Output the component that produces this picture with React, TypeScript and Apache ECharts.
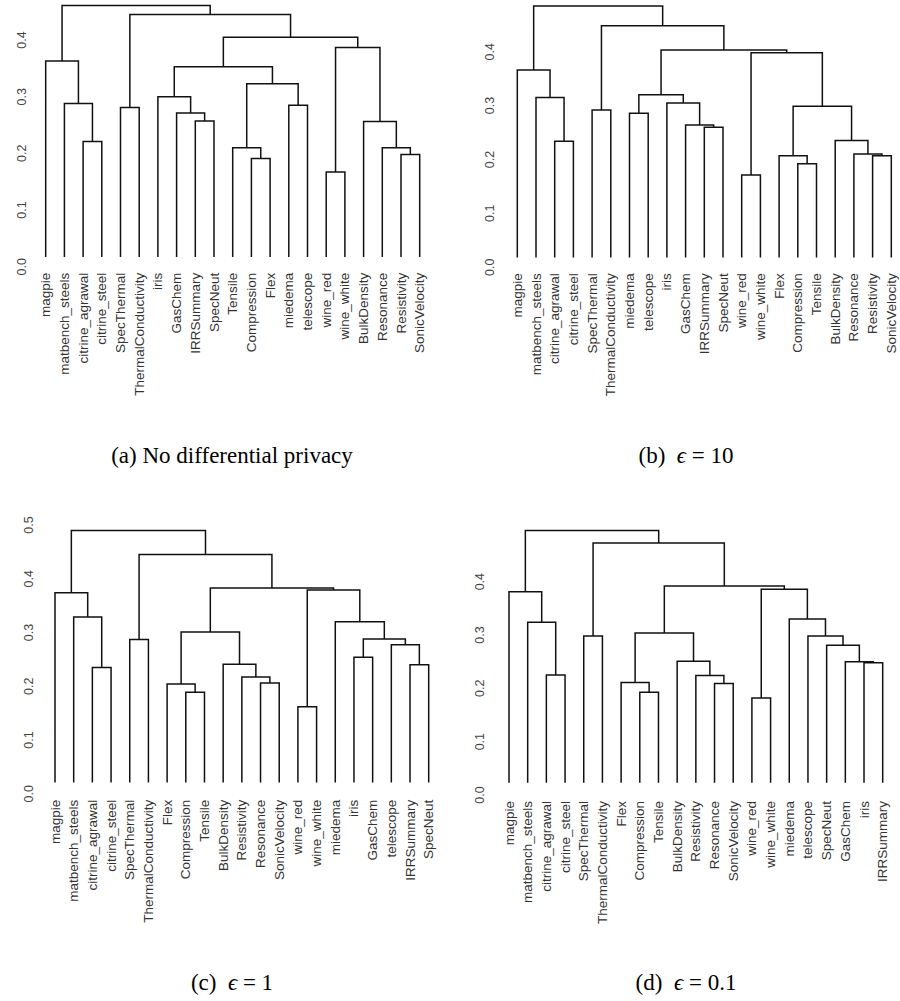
import React, { useEffect, useRef } from 'react';
import * as echarts from 'echarts';

type Child = string | number;

const leavesA = ['magpie','matbench_steels','citrine_agrawal','citrine_steel','SpecThermal','ThermalConductivity','iris','GasChem','IRRSummary','SpecNeut','Tensile','Compression','Flex','miedema','telescope','wine_red','wine_white','BulkDensity','Resonance','Resistivity','SonicVelocity'];
const mergesA: [Child, Child, number][] = [
  ['citrine_agrawal','citrine_steel',0.221],
  ['matbench_steels',0,0.288],
  ['magpie',1,0.363],
  ['SpecThermal','ThermalConductivity',0.281],
  ['IRRSummary','SpecNeut',0.257],
  ['GasChem',4,0.271],
  ['iris',5,0.300],
  ['Compression','Flex',0.191],
  ['Tensile',7,0.210],
  ['miedema','telescope',0.285],
  [8,9,0.323],
  [6,10,0.353],
  ['wine_red','wine_white',0.167],
  ['Resistivity','SonicVelocity',0.198],
  ['Resonance',13,0.210],
  ['BulkDensity',14,0.256],
  [12,15,0.387],
  [11,16,0.405],
  [3,17,0.445],
  [2,18,0.461],
];

const leavesB = ['magpie','matbench_steels','citrine_agrawal','citrine_steel','SpecThermal','ThermalConductivity','miedema','telescope','iris','GasChem','IRRSummary','SpecNeut','wine_red','wine_white','Flex','Compression','Tensile','BulkDensity','Resonance','Resistivity','SonicVelocity'];
const mergesB: [Child, Child, number][] = [
  ['citrine_agrawal','citrine_steel',0.234],
  ['matbench_steels',0,0.315],
  ['magpie',1,0.366],
  ['SpecThermal','ThermalConductivity',0.292],
  ['miedema','telescope',0.286],
  ['IRRSummary','SpecNeut',0.260],
  ['GasChem',5,0.264],
  ['iris',6,0.305],
  [4,7,0.320],
  ['wine_red','wine_white',0.171],
  ['Compression','Tensile',0.192],
  ['Flex',10,0.207],
  ['Resistivity','SonicVelocity',0.207],
  ['Resonance',12,0.210],
  ['BulkDensity',13,0.235],
  [11,14,0.299],
  [9,15,0.398],
  [8,16,0.403],
  [3,17,0.448],
  [2,18,0.485],
];

const leavesC = ['magpie','matbench_steels','citrine_agrawal','citrine_steel','SpecThermal','ThermalConductivity','Flex','Compression','Tensile','BulkDensity','Resistivity','Resonance','SonicVelocity','wine_red','wine_white','miedema','iris','GasChem','telescope','IRRSummary','SpecNeut'];
const mergesC: [Child, Child, number][] = [
  ['citrine_agrawal','citrine_steel',0.235],
  ['matbench_steels',0,0.329],
  ['magpie',1,0.374],
  ['SpecThermal','ThermalConductivity',0.287],
  ['Compression','Tensile',0.189],
  ['Flex',4,0.204],
  ['Resonance','SonicVelocity',0.206],
  ['Resistivity',6,0.217],
  ['BulkDensity',7,0.241],
  [5,8,0.301],
  ['wine_red','wine_white',0.162],
  ['iris','GasChem',0.254],
  ['IRRSummary','SpecNeut',0.240],
  ['telescope',12,0.277],
  [11,13,0.288],
  ['miedema',14,0.320],
  [10,15,0.379],
  [9,16,0.383],
  [3,17,0.445],
  [2,18,0.490],
];

const leavesD = ['magpie','matbench_steels','citrine_agrawal','citrine_steel','SpecThermal','ThermalConductivity','Flex','Compression','Tensile','BulkDensity','Resistivity','Resonance','SonicVelocity','wine_red','wine_white','miedema','telescope','SpecNeut','GasChem','iris','IRRSummary'];
const mergesD: [Child, Child, number][] = [
  ['citrine_agrawal','citrine_steel',0.225],
  ['matbench_steels',0,0.324],
  ['magpie',1,0.381],
  ['SpecThermal','ThermalConductivity',0.298],
  ['Compression','Tensile',0.1925],
  ['Flex',4,0.211],
  ['Resonance','SonicVelocity',0.209],
  ['Resistivity',6,0.224],
  ['BulkDensity',7,0.251],
  [5,8,0.304],
  ['wine_red','wine_white',0.182],
  ['iris','IRRSummary',0.248],
  ['GasChem',11,0.250],
  ['SpecNeut',12,0.281],
  ['telescope',13,0.298],
  ['miedema',14,0.330],
  [10,15,0.386],
  [9,16,0.392],
  [3,17,0.4725],
  [2,18,0.496],
];

const leafBase = [0.017, 0.018, 0.021, 0.023];
const yMaxes = [0.47, 0.49, 0.5, 0.5];
const captionLabels = ['(a)', '(b)', '(c)', '(d)'];
const captionTexts = ['No differential privacy', '10', '1', '0.1'];

function buildLinks(leaves: string[], merges: [Child, Child, number][], base: number) {
  const mx: number[] = [];
  const px = (c: Child) => (typeof c === 'string' ? leaves.indexOf(c) : mx[c]);
  const ph = (c: Child) => (typeof c === 'string' ? base : merges[c][2]);
  const out: number[][] = [];
  merges.forEach(([a, b, h]) => {
    const xa = px(a), xb = px(b);
    mx.push((xa + xb) / 2);
    out.push([xa, xb, ph(a), ph(b), h]);
  });
  return out;
}

const panels = [
  { leaves: leavesA, merges: mergesA, grid: { left: 45.7, top: 0.35, width: 374, height: 266.35 }, yMargin: 17 },
  { leaves: leavesB, merges: mergesB, grid: { left: 517.3, top: 3.24, width: 374, height: 263.96 }, yMargin: 21 },
  { leaves: leavesC, merges: mergesC, grid: { left: 55, top: 525, width: 373.7, height: 268.75 }, yMargin: 19.5 },
  { leaves: leavesD, merges: mergesD, grid: { left: 509, top: 528.35, width: 373.7, height: 266.65 }, yMargin: 22.5 },
];

const capPos = [
  [232, 455],
  [686, 455],
  [232, 982],
  [686, 982],
];

export default function App() {
  const ref = useRef<HTMLDivElement>(null);
  useEffect(() => {
    if (!ref.current) return;
    const chart = echarts.init(ref.current, undefined, { renderer: 'svg' });
    const serif = '"Liberation Serif", "Times New Roman", serif';
    const fs = 23;
    const graphics: any[] = captionTexts.map((c, i) => {
      if (i === 0) {
        return {
          type: 'text', x: capPos[i][0], y: capPos[i][1],
          style: { text: `${captionLabels[i]} ${c}`, fontFamily: serif, fontSize: fs, fill: '#000', align: 'center', verticalAlign: 'middle' },
        };
      }
      return {
        type: 'text', x: capPos[i][0], y: capPos[i][1],
        style: {
          text: `{n|${captionLabels[i]}\u2002}{e|ϵ}{n| = ${c}}`,
          rich: {
            n: { fontFamily: serif, fontSize: fs, fill: '#000' },
            e: { fontFamily: serif, fontSize: fs, fontStyle: 'italic', fill: '#000' },
          },
          fontFamily: serif, fontSize: fs, fill: '#000', align: 'center', verticalAlign: 'middle',
        },
      };
    });
    const option: any = {
      animation: false,
      backgroundColor: '#fff',
      grid: panels.map((p) => ({ ...p.grid, containLabel: false })),
      xAxis: panels.map((p, i) => ({
        type: 'value', gridIndex: i, min: 0, max: 20, interval: 1,
        axisLine: { show: false }, axisTick: { show: false }, splitLine: { show: false },
        axisLabel: {
          rotate: 90, margin: 6, fontSize: 13.5, color: '#333', fontFamily: '"Liberation Sans", Arial, sans-serif',
          formatter: (v: number) => p.leaves[Math.round(v)] ?? '',
        },
      })),
      yAxis: panels.map((p, i) => ({
        type: 'value', gridIndex: i, min: 0, max: yMaxes[i], interval: 0.1,
        axisLine: { show: false }, axisTick: { show: false }, splitLine: { show: false },
        axisLabel: {
          rotate: 90, margin: p.yMargin, fontSize: 12.5, color: '#444', fontFamily: '"Liberation Sans", Arial, sans-serif',
          showMaxLabel: i === 2 ? true : false,
          formatter: (v: number) => v.toFixed(1),
        },
      })),
      series: panels.map((p, i) => ({
        type: 'custom', xAxisIndex: i, yAxisIndex: i, clip: false,
        data: buildLinks(p.leaves, p.merges, leafBase[i]),
        renderItem: (params: any, api: any) => {
          const xa = api.value(0), xb = api.value(1), ya = api.value(2), yb = api.value(3), h = api.value(4);
          const pts = [api.coord([xa, ya]), api.coord([xa, h]), api.coord([xb, h]), api.coord([xb, yb])];
          return { type: 'polyline', shape: { points: pts }, style: { stroke: '#111', lineWidth: 1.5, fill: 'none' } };
        },
      })),
      graphic: graphics,
    };
    chart.setOption(option);
    return () => chart.dispose();
  }, []);
  return <div ref={ref} style={{ position: 'fixed', left: 0, top: 0, width: 900, height: 1001, background: '#fff' }} />;
}
